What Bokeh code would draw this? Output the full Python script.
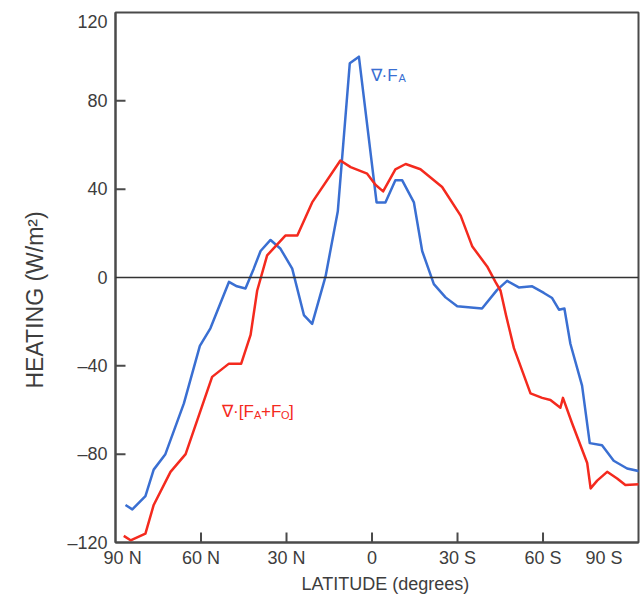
from bokeh.plotting import figure
from bokeh.models import Range1d, FixedTicker, Label, Span, Title
from bokeh.embed import file_html
from bokeh.resources import INLINE

# Latitude (degrees, N positive) and heating (W/m^2)
lat_fa = [86.5, 84.1, 79.5, 76.6, 72.5, 66.0, 60.4, 56.7, 50.2, 47.4, 44.4, 41.5,
          39.1, 35.6, 32.1, 28.0, 23.9, 21.0, 16.3, 12.0, 7.8, 4.6, -1.6, -4.7,
          -8.2, -10.6, -14.7, -17.6, -21.7, -25.8, -29.9, -38.6, -43.9, -47.4,
          -51.5, -56.2, -60.3, -63.2, -65.6, -67.5, -69.6, -73.7, -76.4, -80.7,
          -84.8, -89.5, -94.8]
val_fa = [-103, -105, -99, -87, -80, -57, -31, -23, -2, -4, -5, 4,
          12, 17, 13, 4, -17, -21, 0.5, 30, 97, 100, 34, 34,
          44, 44, 34, 12, -3, -9, -13, -14, -5.6, -1.5,
          -4.5, -4, -7, -9.3, -14.6, -14, -30, -49, -75, -76,
          -83, -86.5, -88]

lat_fao = [87.1, 84.7, 79.5, 76.6, 70.7, 65.4, 56.1, 50.2, 45.9, 42.6, 40.3, 36.8,
           30.4, 26.2, 21.0, 11.1, 7.5, 1.7, -1.2, -3.9, -8.2, -11.8, -17.0,
           -24.6, -31.1, -35.2, -40.4, -43.3, -45.1, -47.0, -49.8, -55.6, -59.7,
           -62.6, -66.1, -67.0, -70.2, -75.5, -76.7, -79.0, -82.5, -86.0, -88.9,
           -94.8]
val_fao = [-117, -119, -116, -103, -88, -80, -45, -39, -39, -26, -6, 10,
           19, 19, 34, 53, 50, 47, 42, 39, 49, 51.4, 49,
           41, 28, 14, 5, -2, -6, -17, -32, -52.5, -54.5,
           -55.5, -59, -54.5, -66, -84, -95.5, -92, -88, -91, -94,
           -93.5]

# tick marks (inside the frame) and tick labels
x_tick_marks = [60, 30, 0, -30, -60]
x_label_pos = [87.5, 60, 30, 0, -30, -60, -81.4]
x_label_txt = ["90 N", "60 N", "30 N", "0", "30 S", "60 S", "90 S"]
y_tick_marks = [80, 40, -40, -80]
y_label_pos = [115.7, 80, 40, 0, -40, -80, -120]
y_label_txt = ["120", "80", "40", "0", "–40", "–80", "–120"]

FONT = "Liberation Sans"
TXT = "#3d3d3d"
FRAME = "#4a4a4a"
BLUE = "#3a6fd2"
RED = "#f42a1e"

X0, X1 = 90, -93.5
Y0, Y1 = -120, 120

p = figure(width=642, height=596, output_backend="svg", toolbar_location=None,
           x_range=Range1d(X0, X1), y_range=Range1d(Y0, Y1),
           min_border_left=115, min_border_right=4, min_border_top=12,
           min_border_bottom=54)
p.grid.visible = False
p.outline_line_color = FRAME
p.outline_line_width = 2
p.background_fill_color = "white"
p.border_fill_color = "white"

for ax in (p.xaxis[0], p.yaxis[0]):
    ax.axis_line_color = FRAME
    ax.axis_line_width = 2
    ax.major_tick_in = 0
    ax.major_tick_out = 0
    ax.major_tick_line_color = None
    ax.minor_tick_line_color = None
    ax.major_label_text_font = FONT
    ax.major_label_text_font_size = "18px"
    ax.major_label_text_color = TXT

p.xaxis.ticker = FixedTicker(ticks=x_label_pos)
p.xaxis.major_label_overrides = dict(zip(x_label_pos, x_label_txt))
p.xaxis.major_label_standoff = 5
p.yaxis.ticker = FixedTicker(ticks=y_label_pos)
p.yaxis.major_label_overrides = dict(zip(y_label_pos, y_label_txt))
p.yaxis.major_label_standoff = 8

# inward tick marks, 10 px long
tick_len_x = 10 / (542 - 12) * (Y1 - Y0)
tick_len_y = 10 / (638 - 115) * abs(X1 - X0)
p.segment(x0=x_tick_marks, y0=[Y0] * len(x_tick_marks),
          x1=x_tick_marks, y1=[Y0 + tick_len_x] * len(x_tick_marks),
          line_color=FRAME, line_width=2)
p.segment(x0=[X0] * len(y_tick_marks), y0=y_tick_marks,
          x1=[X0 - tick_len_y] * len(y_tick_marks), y1=y_tick_marks,
          line_color=FRAME, line_width=2)

p.add_layout(Span(location=0, dimension="width", line_color="#333333", line_width=1.5))

p.line(lat_fa, val_fa, line_color=BLUE, line_width=2.5, line_join="round")
p.line(lat_fao, val_fao, line_color=RED, line_width=2.5, line_join="round")

# axis titles
p.add_layout(Title(text="LATITUDE (degrees)", align="left", offset=186,
                   text_font=FONT, text_font_size="18px", text_font_style="normal",
                   text_color=TXT, standoff=3), "below")
p.add_layout(Title(text="HEATING (W/m²)", align="left", offset=154,
                   text_font=FONT, text_font_size="23px", text_font_style="normal",
                   text_color=TXT, standoff=33), "left")

def lab(text, x, y, color, size, **kw):
    p.add_layout(Label(text=text, x=x, y=y, text_color=color, text_font=FONT,
                       text_font_size=size, text_align="left",
                       text_baseline="alphabetic", **kw))

# curve labels
lab("∇·F", 0.5, 91.6, BLUE, "17px")
lab("A", 0.5, 91.6, BLUE, "11px", x_offset=28, y_offset=-3)

lab("∇·[F", 52.6, -60.9, RED, "17px")
lab("A", 52.6, -60.9, RED, "11px", x_offset=32, y_offset=-3)
lab("+F", 52.6, -60.9, RED, "17px", x_offset=39)
lab("O", 52.6, -60.9, RED, "11px", x_offset=59, y_offset=-3)
lab("]", 52.6, -60.9, RED, "17px", x_offset=67)

open("out.html", "w").write(file_html(p, INLINE))
